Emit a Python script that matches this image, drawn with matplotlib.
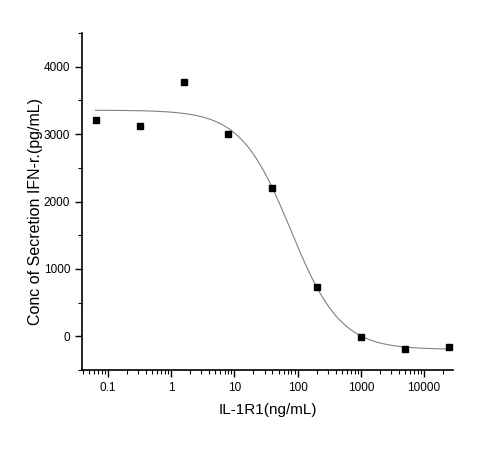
import matplotlib
matplotlib.use("Agg")
import matplotlib.pyplot as plt
import numpy as np
from matplotlib.ticker import MultipleLocator, LogLocator, NullFormatter, FixedLocator, FixedFormatter

plt.rcParams['font.family'] = ['Liberation Sans', 'DejaVu Sans']

# measured points
conc = [0.064, 0.32, 1.6, 8, 40, 200, 1000, 5000, 25000]
ifn = [3205, 3126, 3773, 2997, 2200, 731, -10, -183, -158]

# logistic fit
top = 3355
bottom = -195
ec50 = 77.7
hill = 1.10

xfit = np.logspace(np.log10(conc[0]), np.log10(conc[-1]), 400)
yfit = bottom + (top - bottom) / (1 + (xfit / ec50) ** hill)

fig = plt.figure(figsize=(4.8, 4.54), dpi=100)
ax = fig.add_axes([0.1708, 0.185, 0.773, 0.7423])

ax.plot(xfit, yfit, color='#808080', lw=0.8)
ax.plot(conc, ifn, 's', color='black', ms=4)

ax.set_xscale('log')
ax.set_xlim(0.039, 28700)
ax.set_ylim(-500, 4500)

xt = [0.1, 1, 10, 100, 1000, 10000]
ax.xaxis.set_major_locator(FixedLocator(xt))
ax.xaxis.set_major_formatter(FixedFormatter(['0.1', '1', '10', '100', '1000', '10000']))
ax.xaxis.set_minor_locator(LogLocator(base=10, subs=np.arange(2, 10), numticks=20))
ax.xaxis.set_minor_formatter(NullFormatter())

ax.yaxis.set_major_locator(FixedLocator([0, 1000, 2000, 3000, 4000]))
ax.yaxis.set_minor_locator(MultipleLocator(500))

for s in ['top', 'right']:
    ax.spines[s].set_visible(False)
for s in ['left', 'bottom']:
    ax.spines[s].set_linewidth(1.2)

ax.tick_params(which='major', direction='out', length=5, width=1.0, labelsize=8.5)
ax.tick_params(which='minor', direction='out', length=3, width=0.8)

ax.set_xlabel('IL-1R1(ng/mL)', fontsize=11)
ax.set_ylabel('Conc of Secretion IFN-r.(pg/mL)', fontsize=11.5)
ax.xaxis.set_label_coords(0.5, -0.097)
ax.yaxis.set_label_coords(-0.105, 0.469)

fig.savefig('out.png', dpi=100)
